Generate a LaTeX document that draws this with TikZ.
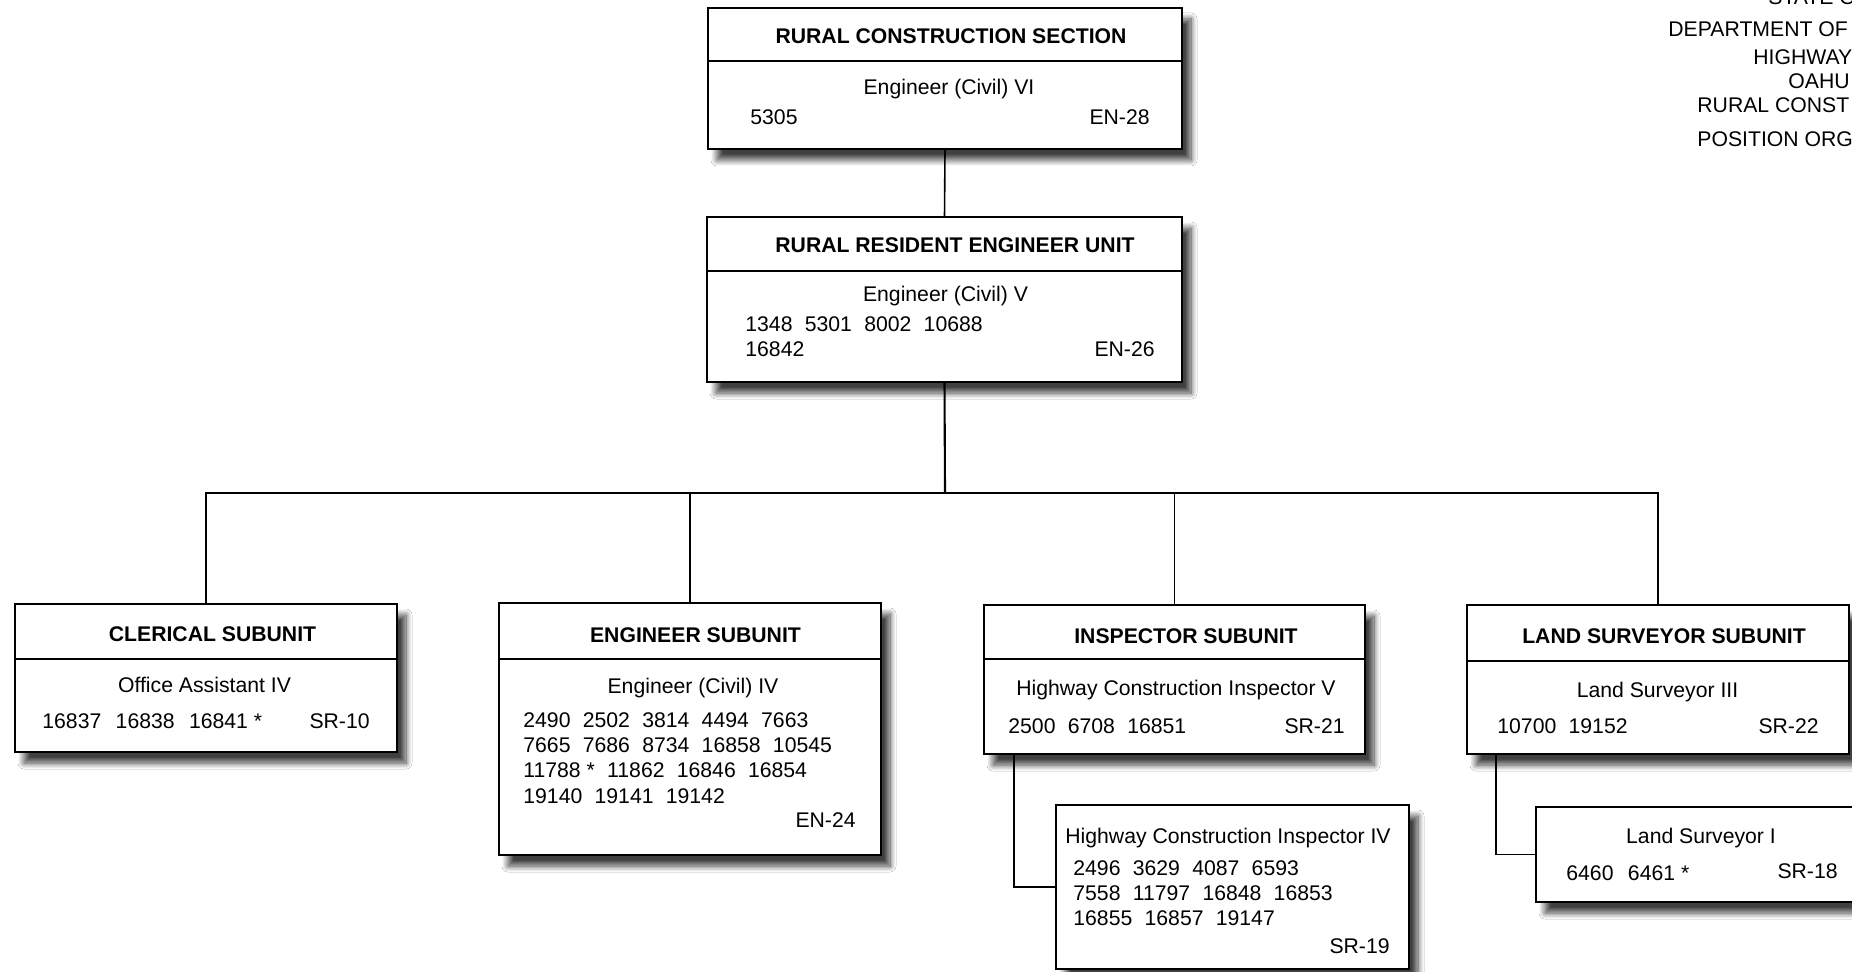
\documentclass[tikz,border=0pt]{standalone}
\usepackage{fontspec}
\setmainfont{Liberation Sans}
\usetikzlibrary{shadows.blur,calc}
\newcommand\gp{\hspace{0.58em}}
\newcommand\gq{\hspace{0.68em}}
\begin{document}
\begin{tikzpicture}[x=0.5pt,y=-0.5pt,
  box/.style={draw=black, line width=1.3pt, fill=white, inner sep=0pt, outer sep=0pt,
     blur shadow={shadow xshift=4.5pt, shadow yshift=-5.5pt, shadow blur radius=3pt, shadow blur steps=12, shadow opacity=75}},
  ttl/.style={anchor=base, font=\fontsize{10.6}{12}\selectfont\bfseries, inner sep=0pt},
  txt/.style={anchor=base, font=\fontsize{10.6}{12}\selectfont, inner sep=0pt},
  num/.style={txt, anchor=base west},
  grd/.style={txt, anchor=base east},
  link/.style={draw=black, line width=0.8pt},
  div/.style={draw=black, line width=0.9pt}]
\useasboundingbox (0,0) rectangle (1852,972);
\clip (0,0) rectangle (1852,972);
\fill[white] (0,0) rectangle (1852,972);

% header (cut off at right edge, as in the original)
\node[num] (h1) at (1768,5) {STATE O};
\node[num] (h2) at (1668,37) {DEPARTMENT OF};
\node[num] (h3) at (1753,65) {HIGHWAY};
\node[num] (h4) at (1788,89) {OAHU};
\node[num] (h5) at (1697,113) {RURAL CONST};
\node[num] (h6) at (1697,147) {POSITION ORG};

% Rural Construction Section
\node[box, minimum width=237pt, minimum height=70.5pt] (rcs) at (945,78.5) {};
\draw[div] (rcs.west |- 0,61) -- (rcs.east |- 0,61);
\node[ttl] (rcs-t) at (951,44) {RURAL CONSTRUCTION SECTION};
\node[txt] (rcs-r) at (949,95) {Engineer (Civil) VI};
\node[num] (rcs-n) at (750,125) {5305};
\node[grd] (rcs-g) at (1150,125) {EN-28};

% Rural Resident Engineer Unit
\node[box, minimum width=237.5pt, minimum height=82.5pt] (rreu) at (944.5,299.5) {};
\draw[div] (rreu.west |- 0,271) -- (rreu.east |- 0,271);
\node[ttl] (rreu-t) at (955,253) {RURAL RESIDENT ENGINEER UNIT};
\node[txt] (rreu-r) at (945.5,302) {Engineer (Civil) V};
\node[num] (rreu-n1) at (745,332) {1348\gp5301\gp8002\gp10688};
\node[num] (rreu-n2) at (745,357) {16842};
\node[grd] (rreu-g) at (1155,357) {EN-26};

% Clerical Subunit
\node[box, minimum width=191pt, minimum height=74pt] (cler) at (206,678) {};
\draw[div] (cler.west |- 0,659) -- (cler.east |- 0,659);
\node[ttl] (cler-t) at (212.5,641) {CLERICAL SUBUNIT};
\node[txt] (cler-r) at (204.5,692) {Office Assistant IV};
\node[num] (cler-n) at (42,728) {16837\gq16838\gq16841 *};
\node[grd] (cler-g) at (370,728) {SR-10};

% Engineer Subunit
\node[box, minimum width=191pt, minimum height=126pt] (eng) at (690,729) {};
\draw[div] (eng.west |- 0,659) -- (eng.east |- 0,659);
\node[ttl] (eng-t) at (695.5,642) {ENGINEER SUBUNIT};
\node[txt] (eng-r) at (693,693) {Engineer (Civil) IV};
\node[num] (eng-n1) at (523,727) {2490\gp2502\gp3814\gp4494\gp7663};
\node[num] (eng-n2) at (523,752) {7665\gp7686\gp8734\gp16858\gp10545};
\node[num] (eng-n3) at (523,777) {11788 *\gp11862\gp16846\gp16854};
\node[num] (eng-n4) at (523,803) {19140\gp19141\gp19142};
\node[grd] (eng-g) at (856,827) {EN-24};

% Inspector Subunit
\node[box, minimum width=190.5pt, minimum height=74.5pt] (insp) at (1174.5,679.5) {};
\draw[div] (insp.west |- 0,659) -- (insp.east |- 0,659);
\node[ttl] (insp-t) at (1186,643) {INSPECTOR SUBUNIT};
\node[txt] (insp-r) at (1176,695) {Highway Construction Inspector V};
\node[num] (insp-n) at (1008,733) {2500\gp6708\gp16851};
\node[grd] (insp-g) at (1345,733) {SR-21};

% Highway Construction Inspector IV
\node[box, minimum width=176.5pt, minimum height=82pt] (hci) at (1232.5,887) {};
\node[txt] (hci-r) at (1228,843) {Highway Construction Inspector IV};
\node[num] (hci-n1) at (1073,875) {2496\gp3629\gp4087\gp6593};
\node[num] (hci-n2) at (1073,900) {7558\gp11797\gp16848\gp16853};
\node[num] (hci-n3) at (1073,925) {16855\gp16857\gp19147};
\node[grd] (hci-g) at (1390,953) {SR-19};

% Land Surveyor Subunit
\node[box, minimum width=191pt, minimum height=74.5pt] (ls) at (1658,679.5) {};
\draw[div] (ls.west |- 0,661) -- (ls.east |- 0,661);
\node[ttl] (ls-t) at (1664,643) {LAND SURVEYOR SUBUNIT};
\node[txt] (ls-r) at (1657.5,697) {Land Surveyor III};
\node[num] (ls-n) at (1497,733) {10700\gp19152};
\node[grd] (ls-g) at (1819,733) {SR-22};

% Land Surveyor I
\node[box, minimum width=164pt, minimum height=47.5pt] (lsi) at (1700,854.5) {};
\node[txt] (lsi-r) at (1701,843) {Land Surveyor I};
\node[num] (lsi-n) at (1566,880) {6460\gq6461 *};
\node[grd] (lsi-g) at (1838,878) {SR-18};

% connectors
\coordinate (bus) at (945,493);
\draw[link] (rcs.south) -- (rreu.north);
\draw[link, line width=1.05pt] (rreu.south) -- (bus);
\draw[link] (cler.north) |- (bus) -| (ls.north);
\draw[link] (eng.north) -- (eng.north |- bus);
\draw[link] (insp.north) -- (insp.north |- bus);
\draw[link] ([xshift=15pt]insp.south west) |- (hci.west);
\draw[link] ([xshift=14.5pt]ls.south west) |- (lsi.west);
\end{tikzpicture}
\end{document}
